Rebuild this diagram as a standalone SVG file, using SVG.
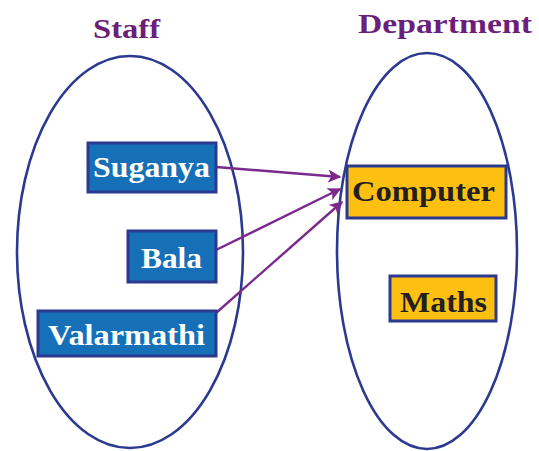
<svg xmlns="http://www.w3.org/2000/svg" width="539" height="451" viewBox="0 0 539 451">
<defs>
<style>
.set{fill:none;stroke:#2B3990;stroke-width:2.6}
.staff rect{fill:#1570B8;stroke:#2B3990;stroke-width:3}
.dept rect{fill:#FDC010;stroke:#2B3990;stroke-width:3}
text{font-family:"Liberation Serif","DejaVu Serif",serif;font-weight:bold}
.staff text{fill:#fff;font-size:29px}
.dept text{fill:#231F20;font-size:29px}
.title{fill:#6B1F7A;font-size:28px}
.arr{stroke:#7B2A8C;stroke-width:2.4;fill:none;marker-end:url(#ah)}
</style>
<marker id="ah" viewBox="0 0 10 10" refX="9" refY="5" markerWidth="5.5" markerHeight="5.5" orient="auto" markerUnits="strokeWidth">
<path d="M0,0 L10,5 L0,10 L2.5,5 Z" fill="#7B2A8C"/>
</marker>
</defs>
<text class="title" x="93" y="38" textLength="67" lengthAdjust="spacingAndGlyphs">Staff</text>
<text class="title" x="358" y="33" textLength="174" lengthAdjust="spacingAndGlyphs">Department</text>
<ellipse id="staff-set" class="set" cx="130" cy="252" rx="113" ry="196"/>
<ellipse id="dept-set" class="set" cx="427" cy="251" rx="90" ry="198"/>
<g id="connectors">
<line class="arr" x1="216" y1="167" x2="340" y2="177"/>
<line class="arr" x1="216" y1="250" x2="340" y2="189"/>
<line class="arr" x1="216" y1="313" x2="342" y2="202"/>
</g>
<g id="suganya" class="staff"><rect x="88" y="143" width="128" height="49"/><text x="93" y="177" textLength="117" lengthAdjust="spacingAndGlyphs">Suganya</text></g>
<g id="bala" class="staff"><rect x="128" y="231" width="88" height="51"/><text x="141" y="268" textLength="61" lengthAdjust="spacingAndGlyphs">Bala</text></g>
<g id="valarmathi" class="staff"><rect x="38" y="311" width="178" height="45"/><text x="48" y="345" textLength="157" lengthAdjust="spacingAndGlyphs">Valarmathi</text></g>
<g id="computer" class="dept"><rect x="347" y="166" width="159" height="52"/><text x="352" y="201" textLength="143" lengthAdjust="spacingAndGlyphs">Computer</text></g>
<g id="maths" class="dept"><rect x="390" y="276" width="106" height="45"/><text x="400" y="312" textLength="87" lengthAdjust="spacingAndGlyphs">Maths</text></g>
</svg>
